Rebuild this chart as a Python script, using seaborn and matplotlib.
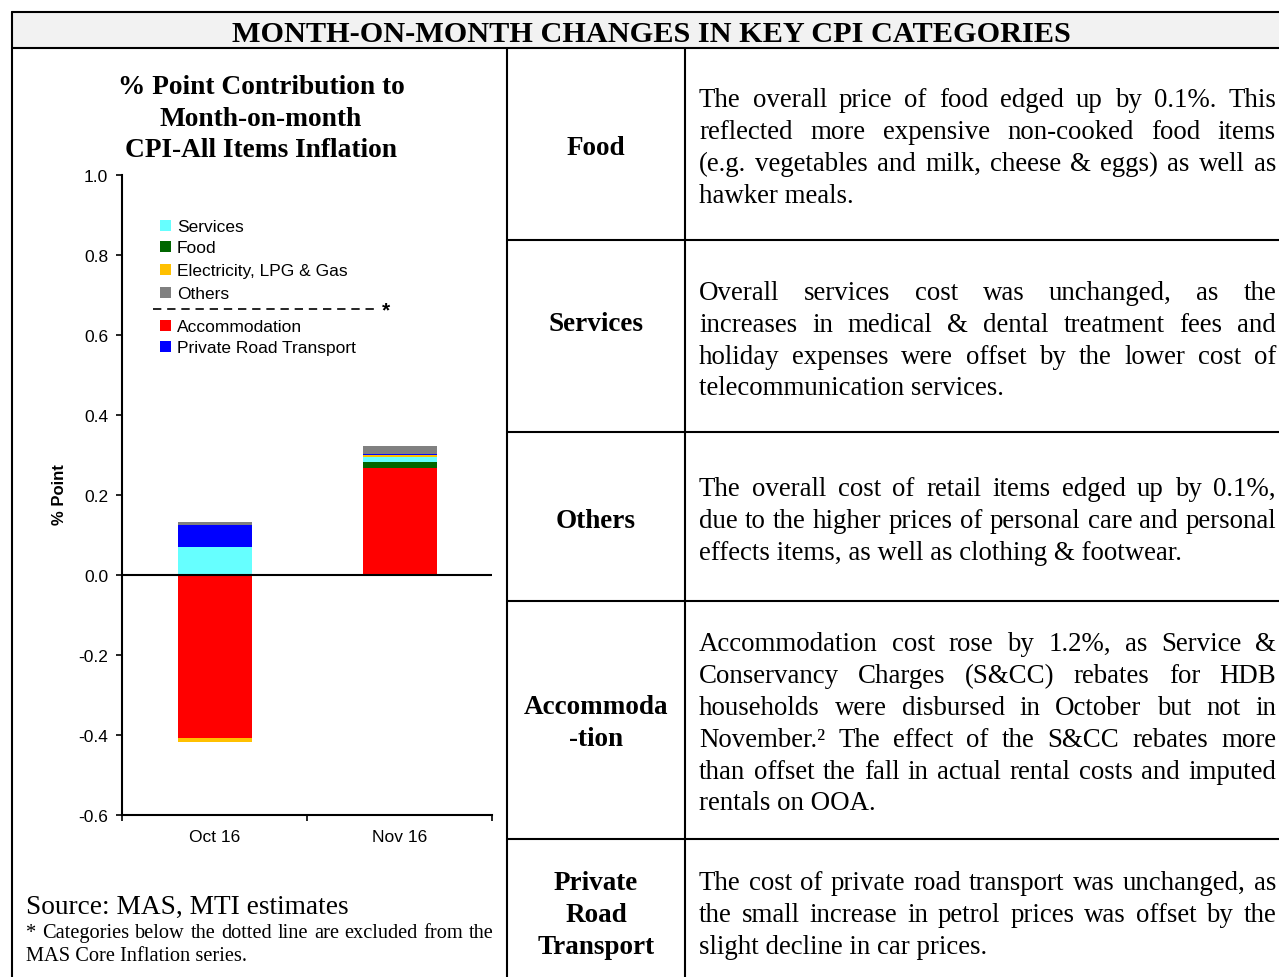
import matplotlib
matplotlib.use("Agg")
import matplotlib.pyplot as plt
from matplotlib.patches import Rectangle
from matplotlib.lines import Line2D
from matplotlib.ticker import FixedLocator, FixedFormatter
import pandas as pd
import seaborn as sns

# % point contributions
months = ["Oct 16", "Nov 16"]
accommodation = [-0.407, 0.267]
food = [0.000, 0.016]
services = [0.070, 0.012]
electricity = [-0.010, 0.004]
private_road = [0.055, 0.003]
others = [0.008, 0.021]

# order in which the segments are stacked
stack_order = ["Accommodation", "Food", "Services", "Electricity, LPG & Gas",
               "Private Road Transport", "Others"]
colours = {
    "Services": "#66ffff",
    "Food": "#006600",
    "Electricity, LPG & Gas": "#ffc000",
    "Others": "#808080",
    "Accommodation": "#ff0000",
    "Private Road Transport": "#0000ff",
}
core_items = ["Services", "Food", "Electricity, LPG & Gas", "Others"]
noncore_items = ["Accommodation", "Private Road Transport"]
yticks = [-0.6, -0.4, -0.2, 0.0, 0.2, 0.4, 0.6, 0.8, 1.0]
ytick_labels = ["-0.6", "-0.4", "-0.2", "0.0", "0.2", "0.4", "0.6", "0.8", "1.0"]

title = "MONTH-ON-MONTH CHANGES IN KEY CPI CATEGORIES"
chart_title = ["% Point Contribution to", "Month-on-month", "CPI-All Items Inflation"]
row_labels = [["Food"], ["Services"], ["Others"], ["Accommoda", "-tion"],
              ["Private", "Road", "Transport"]]
row_text = [
    ["The overall price of food edged up by 0.1%. This",
     "reflected more expensive non-cooked food items",
     "(e.g. vegetables and milk, cheese & eggs) as well as",
     "hawker meals."],
    ["Overall services cost was unchanged, as the",
     "increases in medical & dental treatment fees and",
     "holiday expenses were offset by the lower cost of",
     "telecommunication services."],
    ["The overall cost of retail items edged up by 0.1%,",
     "due to the higher prices of personal care and personal",
     "effects items, as well as clothing & footwear."],
    ["Accommodation cost rose by 1.2%, as Service &",
     "Conservancy Charges (S&CC) rebates for HDB",
     "households were disbursed in October but not in",
     "November.\u00b2 The effect of the S&CC rebates more",
     "than offset the fall in actual rental costs and imputed",
     "rentals on OOA."],
    ["The cost of private road transport was unchanged, as",
     "the small increase in petrol prices was offset by the",
     "slight decline in car prices."],
]
source = "Source: MAS, MTI estimates"
footnote = ["* Categories below the dotted line are excluded from the",
            "MAS Core Inflation series."]

W, H, DPI = 1279, 978, 100
SERIF, SANS = "Liberation Serif", "Liberation Sans"

sns.set_style("white")
plt.rcParams["font.family"] = [SANS, "DejaVu Sans"]
plt.rcParams["text.color"] = "black"
plt.rcParams["xtick.color"] = "black"
plt.rcParams["ytick.color"] = "black"

fig = plt.figure(figsize=(W / DPI, H / DPI), dpi=DPI)
renderer = fig.canvas.get_renderer()


def fx(x):
    return x / W


def fy(y):
    return 1 - y / H


def put(x, y, s, **kw):
    return fig.text(fx(x), fy(y), s, color="black", **kw)


def measure(s, size, family=SERIF, weight="normal"):
    t = fig.text(0, 0, s, fontsize=size, family=family, weight=weight)
    w = t.get_window_extent(renderer).width
    t.remove()
    return w


def fit(s, target, family=SERIF, weight="normal"):
    return 20 * target / measure(s, 20, family, weight)


def baseline(yc, size, k=0.33):
    return yc + k * size * DPI / 72


def paragraph(lines, x0, x1, ys, size, family=SERIF):
    for i, (line, yc) in enumerate(zip(lines, ys)):
        yb = baseline(yc, size)
        words = line.split(" ")
        if i == len(lines) - 1 or len(words) == 1:
            put(x0, yb, line, fontsize=size, family=family, va="baseline")
            continue
        widths = [measure(w, size, family) for w in words]
        gap = (x1 - x0 - sum(widths)) / (len(words) - 1)
        x = x0
        for w, wd in zip(words, widths):
            put(x, yb, w, fontsize=size, family=family, va="baseline")
            x += wd + gap


# ---- table frame ----
fig.add_artist(Rectangle((fx(12), fy(49)), fx(1279 - 12), (49 - 13) / H,
                         transform=fig.transFigure, facecolor="#f2f2f2",
                         edgecolor="none", zorder=0))
frame = [((12, 1279), (13, 13)), ((12, 1279), (49, 49)), ((12, 12), (13, 978)),
         ((507, 507), (49, 978)), ((685, 685), (49, 978))]
for yl in [241, 433, 602, 840]:
    frame.append(((507, 1279), (yl, yl)))
for xs, ys in frame:
    fig.add_artist(Line2D([fx(v) for v in xs], [fy(v) for v in ys],
                          transform=fig.transFigure, color="black", lw=1.5))

size_title = fit(title, 835, weight="bold")
put(651, baseline(32, size_title), title, fontsize=size_title, family=SERIF,
    weight="bold", ha="center", va="baseline")

# ---- right side of the table ----
label_size = fit("Accommoda", 145, weight="bold")
label_ys = [[146], [322], [519], [705, 737], [881, 913, 945]]
for lines, ys in zip(row_labels, label_ys):
    for line, yc in zip(lines, ys):
        put(596, baseline(yc, label_size), line, fontsize=label_size,
            family=SERIF, weight="bold", ha="center", va="baseline")

body_w = max(measure(l, 20) for par in row_text for l in par[:-1])
body_size = 20 * 575 / body_w
text_ys = [[98, 130, 162, 194], [291, 323, 355, 386], [487, 519, 551],
           [642, 674, 706, 738, 770, 801], [881, 913, 945]]
for lines, ys in zip(row_text, text_ys):
    paragraph(lines, 699, 1276, ys, body_size)

# ---- chart ----
ct_size = fit(chart_title[0], 286, weight="bold")
for line, yc in zip(chart_title, [85, 117, 148]):
    put(261, baseline(yc, ct_size), line, fontsize=ct_size, family=SERIF,
        weight="bold", ha="center", va="baseline")

ax = fig.add_axes([fx(122), fy(816), 370 / W, 640 / H])
df = pd.DataFrame({
    "Accommodation": accommodation,
    "Food": food,
    "Services": services,
    "Electricity, LPG & Gas": electricity,
    "Private Road Transport": private_road,
    "Others": others,
}, index=months)

pos = [0.0] * len(months)
neg = [0.0] * len(months)
for name in stack_order:
    vals = df[name].tolist()
    bottoms = [pos[i] if v >= 0 else neg[i] for i, v in enumerate(vals)]
    sns.barplot(x=months, y=vals, bottom=bottoms, color=colours[name],
                saturation=1, width=0.4, errorbar=None, linewidth=0, ax=ax)
    for i, v in enumerate(vals):
        if v >= 0:
            pos[i] += v
        else:
            neg[i] += v

ax.axhline(0, color="black", lw=1.5, zorder=5)
ax.set_xlim(-0.5, 1.5)
ax.set_ylim(-0.6, 1.0)
ax.set_xlabel("")
ax.set_ylabel("")
for side in ["top", "right"]:
    ax.spines[side].set_visible(False)
for side in ["left", "bottom"]:
    ax.spines[side].set_color("black")
    ax.spines[side].set_linewidth(1.5)
ax.yaxis.set_major_locator(FixedLocator(yticks))
ax.yaxis.set_major_formatter(FixedFormatter(ytick_labels))
ax.xaxis.set_minor_locator(FixedLocator([-0.5, 0.5, 1.5]))
ax.tick_params(axis="y", left=True, length=4, width=1.2, direction="out",
               pad=6, labelsize=12.5, colors="black")
ax.tick_params(axis="x", which="major", bottom=True, length=0, pad=10,
               labelsize=12.5, colors="black")
ax.tick_params(axis="x", which="minor", bottom=True, length=4, width=1.2,
               direction="out", colors="black")
for lbl in ax.get_xticklabels() + ax.get_yticklabels():
    lbl.set_family(SANS)

put(60, 495, "% Point", fontsize=12, family=SANS, weight="bold",
    rotation=90, ha="center", va="center")

# legend drawn by hand, with the dashed core / non-core divider
leg_size = 12.5
leg_ys = dict(zip(core_items + noncore_items, [226, 247, 270, 293, 326, 347]))
for name, yc in leg_ys.items():
    fig.add_artist(Rectangle((fx(160), fy(yc + 5.5)), 11 / W, 11 / H,
                             transform=fig.transFigure,
                             facecolor=colours[name], edgecolor="none"))
    put(177, baseline(yc, leg_size, 0.36), name, fontsize=leg_size,
        family=SANS, va="baseline")
fig.add_artist(Line2D([fx(153), fx(375)], [fy(310), fy(310)],
                      transform=fig.transFigure, color="black", lw=1.2,
                      dashes=(5, 3.5)))
put(386, 311, "*", fontsize=15, family=SANS, weight="bold",
    ha="center", va="center")

# source and footnote
src_size = fit(source, 323)
put(26, baseline(905, src_size), source, fontsize=src_size, family=SERIF,
    va="baseline")
fn_size = fit(footnote[0], 462)
paragraph(footnote, 26, 494, [931, 954], fn_size)

fig.savefig("out.png", dpi=DPI)
